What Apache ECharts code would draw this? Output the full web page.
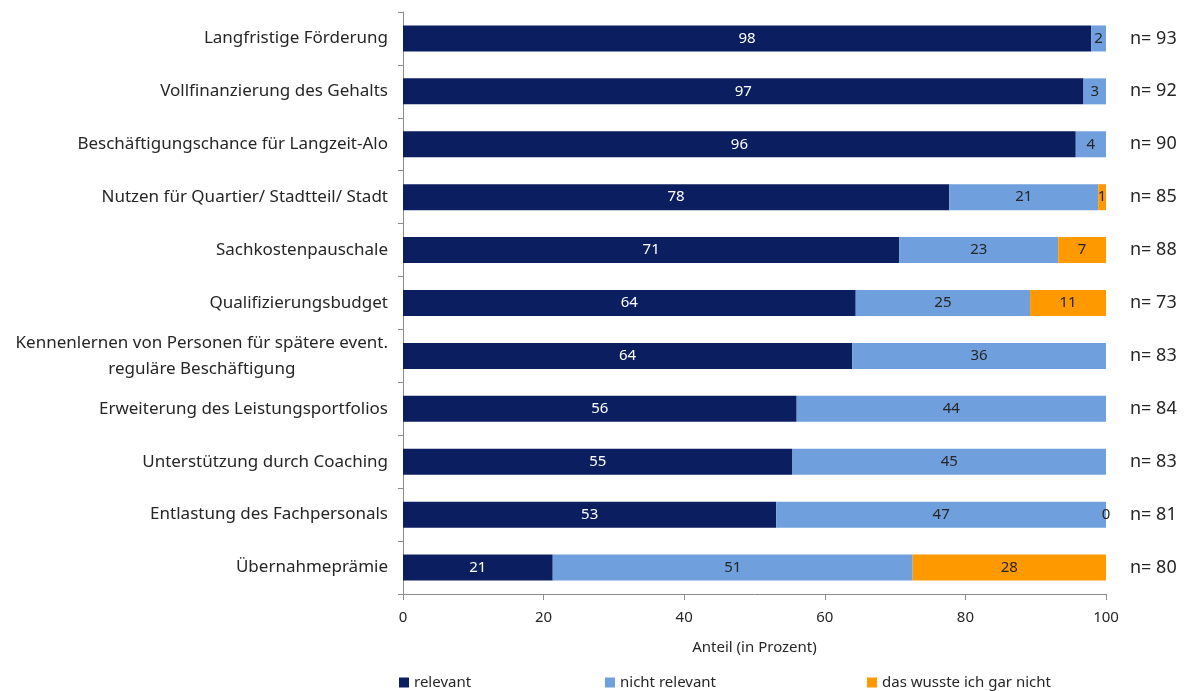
<!DOCTYPE html>
<html>
<head>
<meta charset="utf-8">
<script src="https://cdn.jsdelivr.net/npm/echarts@6/dist/echarts.min.js"></script>
<style>
  html, body { margin: 0; padding: 0; background: #fff; }
  #chart { width: 1189px; height: 691px; }
</style>
</head>
<body>
<div id="chart"></div>
<script>
// categories top to bottom
const categories = [
  'Langfristige Förderung',
  'Vollfinanzierung des Gehalts',
  'Beschäftigungschance für Langzeit-Alo',
  'Nutzen für Quartier/ Stadtteil/ Stadt',
  'Sachkostenpauschale',
  'Qualifizierungsbudget',
  'Kennenlernen von Personen für spätere event.\nreguläre Beschäftigung',
  'Erweiterung des Leistungsportfolios',
  'Unterstützung durch Coaching',
  'Entlastung des Fachpersonals',
  'Übernahmeprämie'
]
const relevant = [97.9, 96.8, 95.7, 77.7, 70.6, 64.4, 63.9, 56.0, 55.4, 53.1, 21.3]
const nichtRelevant = [2.1, 3.2, 4.3, 21.2, 22.6, 24.8, 36.1, 44.0, 44.6, 46.9, 51.2]
const wussteNicht = [null, null, null, 1.1, 6.8, 10.8, null, null, null, 0, 27.5]
const nValues = [93, 92, 90, 85, 88, 73, 83, 84, 83, 81, 80]
const xTicks = [0, 20, 40, 60, 80, 100]

const font = 'Noto Sans'
const txt = '#262626'

const chart = echarts.init(document.getElementById('chart'))

function barLabel(color) {
  return {
    show: true,
    position: 'inside',
    color: color,
    fontFamily: font,
    fontSize: 15,
    formatter: p => (p.value == null ? '' : Math.round(p.value))
  }
}

function legendAt(name, left) {
  return {
    data: [name],
    left: left,
    top: 670,
    icon: 'rect',
    itemWidth: 10,
    itemHeight: 10,
    itemGap: 5,
    selectedMode: false,
    textStyle: { fontFamily: font, fontSize: 15, color: txt }
  }
}

chart.setOption({
  animation: false,
  legend: [
    legendAt('relevant', 394),
    legendAt('nicht relevant', 600),
    legendAt('das wusste ich gar nicht', 862)
  ],
  grid: { left: 403, right: 83, top: 12, bottom: 97 },
  xAxis: {
    type: 'value',
    min: xTicks[0],
    max: xTicks[xTicks.length - 1],
    interval: 20,
    name: 'Anteil (in Prozent)',
    nameLocation: 'middle',
    nameGap: 46,
    nameTextStyle: { fontFamily: font, fontSize: 15, color: txt },
    axisLine: { show: true, lineStyle: { color: '#8c8c8c' } },
    axisTick: { show: true, length: 6, lineStyle: { color: '#8c8c8c' } },
    axisLabel: { fontFamily: font, fontSize: 15, color: txt, margin: 16 },
    splitLine: { show: false }
  },
  yAxis: [
    {
      type: 'category',
      data: categories,
      inverse: true,
      axisLine: { show: true, lineStyle: { color: '#8c8c8c' } },
      axisTick: { show: true, length: 5, lineStyle: { color: '#8c8c8c' } },
      axisLabel: {
        fontFamily: font,
        fontSize: 17,
        color: txt,
        margin: 15,
        formatter: v => v.split('\n').map(s => '{c|' + s + '}').join('\n'),
        rich: { c: { align: 'center', fontFamily: font, fontSize: 17, color: txt, lineHeight: 26 } }
      }
    },
    {
      type: 'category',
      data: nValues.map(n => 'n= ' + n),
      inverse: true,
      position: 'right',
      axisLine: { show: false },
      axisTick: { show: false },
      axisLabel: { fontFamily: font, fontSize: 18, color: txt, margin: 24, align: 'left' }
    }
  ],
  series: [
    {
      name: 'relevant',
      type: 'bar',
      stack: 'total',
      barWidth: 26,
      data: relevant,
      itemStyle: { color: '#0b1f60' },
      label: barLabel('#ffffff')
    },
    {
      name: 'nicht relevant',
      type: 'bar',
      stack: 'total',
      data: nichtRelevant,
      itemStyle: { color: '#6f9fdc' },
      label: barLabel(txt)
    },
    {
      name: 'das wusste ich gar nicht',
      type: 'bar',
      stack: 'total',
      data: wussteNicht,
      itemStyle: { color: '#ff9900' },
      label: barLabel(txt)
    }
  ]
})
</script>
</body>
</html>
